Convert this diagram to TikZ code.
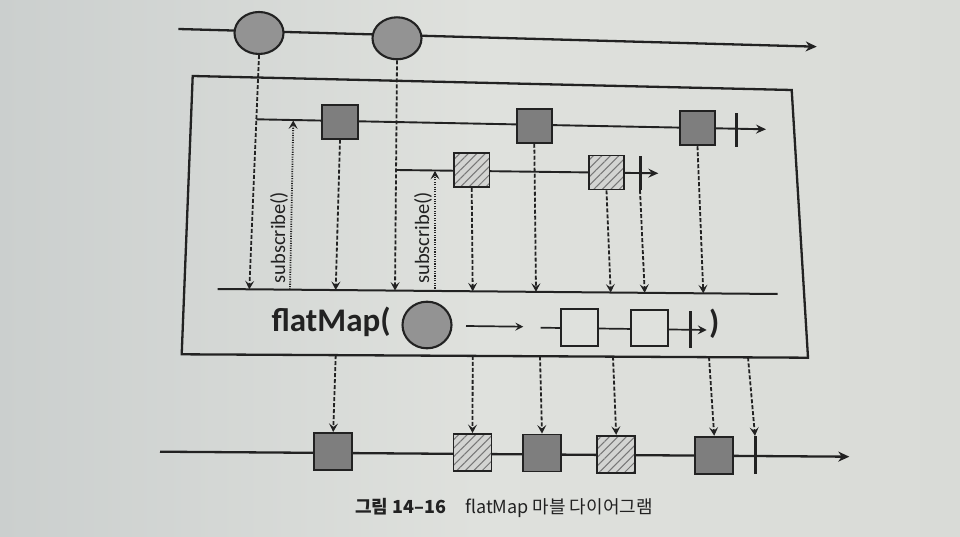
\documentclass[tikz,border=0pt]{standalone}
\usepackage{fontspec}
\setmainfont{Carlito}
\newfontfamily\kr{Noto Sans CJK KR}
\usetikzlibrary{arrows.meta,patterns.meta,shapes.geometric}
\definecolor{ink}{HTML}{222222}
\definecolor{marblegray}{HTML}{939393}
\definecolor{sqgray}{HTML}{7E7E7E}
\definecolor{hatchbg}{HTML}{D3D4D2}
\definecolor{hatchline}{HTML}{777777}
\definecolor{paperL}{HTML}{CBCFCE}
\definecolor{paperM}{HTML}{DFE1DD}
\definecolor{paperR}{HTML}{D9DBD7}
\begin{document}
\begin{tikzpicture}[x=1pt,y=-1pt,
  mainln/.style={draw=ink,line width=2.3pt,-{Stealth[length=11pt,width=10pt,inset=3.5pt]}},
  innerln/.style={draw=ink,line width=1.9pt,-{Stealth[length=10pt,width=9pt,inset=3.5pt]}},
  marble/.style={ellipse,draw=ink,line width=2.1pt,fill=marblegray,minimum width=49pt,minimum height=42pt,inner sep=0pt},
  sq/.style={rectangle,draw=ink,line width=1.9pt,fill=sqgray,minimum width=35.5pt,minimum height=34pt,inner sep=0pt},
  hsq/.style={rectangle,draw=ink,line width=1.9pt,minimum width=35.5pt,minimum height=34pt,inner sep=0pt,
    preaction={fill=hatchbg},pattern={Lines[angle=45,distance=6pt,line width=1pt]},pattern color=hatchline},
  bigsq/.style={minimum width=38pt,minimum height=37pt},
  emptysq/.style={rectangle,draw=ink,line width=1.7pt,minimum width=37pt,minimum height=36.5pt,inner sep=0pt},
  tbar/.style={rectangle,fill=ink,minimum width=3pt,minimum height=34pt,inner sep=0pt},
  dsh/.style={draw=ink,line width=1.8pt,dash pattern=on 4pt off 2pt,-{Stealth[length=8.5pt,width=9pt,inset=3.5pt]}},
  dtt/.style={draw=ink,line width=1.8pt,dash pattern=on 1.1pt off 1.3pt,-{Stealth[length=8.5pt,width=9pt,inset=3.5pt]}},
  subtxt/.style={rotate=90,anchor=base,inner sep=0pt,text=ink,font=\fontsize{20.5}{22}\selectfont},
  fmfont/.style={inner sep=0pt,text=ink,font=\bfseries\fontsize{33}{36}\selectfont},
  captxt/.style={anchor=base west,inner sep=0pt,text=ink,font=\kr\fontsize{18}{20}\selectfont}
]
\useasboundingbox (0,0) rectangle (960,537);
\shade[left color=paperL,right color=paperR,middle color=paperM] (0,0) rectangle (960,537);

% top source stream
\coordinate (topL) at (178.3,29);
\coordinate (topR) at (816.7,46.7);
\draw[mainln] (topL) -- (topR);
\node[marble] (c1) at (259,33) {};
\node[marble] (c2) at (397,38.3) {};

% flatMap box
\draw[draw=ink,line width=2.3pt] (192.7,76) -- (791.7,90) -- (808,357.7) -- (181.7,354.3) -- cycle;

% inner stream 1
\coordinate (st1) at (256.4,119.3);
\coordinate (st1e) at (766,129.3);
\draw[innerln] (st1) -- (st1e);
\node[sq] (s1a) at (340,121.7) {};
\node[sq] (s1b) at (534.3,125.8) {};
\node[sq] (s1c) at (697.5,128.3) {};
\node[tbar] (t1) at (736.7,129.7) {};

% inner stream 2
\coordinate (st2) at (396,170);
\coordinate (st2e) at (658.3,173.3);
\draw[innerln] (st2) -- (st2e);
\node[hsq] (h2a) at (471.7,170.3) {};
\node[hsq] (h2b) at (606.5,172.5) {};
\node[tbar] (t2) at (640,173) {};

% merge line
\coordinate (mL) at (217.7,289);
\coordinate (mR) at (777.7,294);
\draw[draw=ink,line width=2pt] (mL) -- (mR);
\coordinate (m1) at (249.3,289.3);
\coordinate (m2) at (335.7,290.0);
\coordinate (m3) at (395,290.6);
\coordinate (m4) at (472.7,291.3);
\coordinate (m5) at (536,291.8);
\coordinate (m6) at (610.7,292.5);
\coordinate (m7) at (644.7,292.8);
\coordinate (m8) at (703.3,293.3);
\coordinate (sA) at (290,289.6);
\coordinate (sAe) at (293.3,120.4);
\coordinate (sB) at (435,290.9);
\coordinate (sBe) at (435,170.8);

\draw[dsh] (c1.south) -- (m1);
\draw[dsh] (s1a.south) -- (m2);
\draw[dsh] (c2.south) -- (m3);
\draw[dsh] (h2a.south) -- (m4);
\draw[dsh] (s1b.south) -- (m5);
\draw[dsh] (h2b.south) -- (m6);
\draw[dsh] (t2.south) -- (m7);
\draw[dsh] (s1c.south) -- (m8);
\draw[dtt] (sA) -- (sAe);
\draw[dtt] (sB) -- (sBe);
\node[subtxt] (sub1) at (285,237.5) {subscribe()};
\node[subtxt] (sub2) at (429,238) {subscribe()};

% flatMap( ... ) row
\node[fmfont,anchor=base west] (fmt) at (271.5,331.7) {flatMap(};
\node[marble,minimum width=49pt,minimum height=46.6pt] (fc) at (427,325) {};
\coordinate (fa1) at (466,326);
\coordinate (fa2) at (523.3,326.7);
\draw[draw=ink,line width=1.7pt,-{Stealth[length=8pt,width=8pt,inset=3pt]}] (fa1) -- (fa2);
\coordinate (fl1) at (540.7,327.7);
\coordinate (fl2) at (706.7,330);
\draw[draw=ink,line width=1.7pt,-{Stealth[length=9pt,width=9pt,inset=3.5pt]}] (fl1) -- (fl2);
\node[emptysq,fill=paperM] (fA) at (579.7,327.4) {};
\node[emptysq,fill=paperM] (fB) at (649.7,328) {};
\node[tbar,minimum height=36.7pt] (ft) at (690,329.3) {};
\node[fmfont,anchor=base west] (rp) at (709,333.5) {)};

% output stream
\coordinate (bL) at (160,451.7);
\coordinate (bR) at (849.3,456.7);
\draw[mainln] (bL) -- (bR);
\node[sq,bigsq] (o1) at (333.2,451.4) {};
\node[hsq,bigsq] (o2) at (472.5,452.5) {};
\node[sq,bigsq] (o3) at (542,453) {};
\node[hsq,bigsq] (o4) at (616.2,454.3) {};
\node[sq,bigsq] (o5) at (714.2,455.2) {};
\node[tbar,minimum height=38pt] (ot) at (755,455) {};

\coordinate (k1) at (335.7,355.1);
\coordinate (k2) at (472.7,355.9);
\coordinate (k3) at (540,356.3);
\coordinate (k4) at (613,356.6);
\coordinate (k5) at (709,357.2);
\coordinate (k6) at (748,357.4);
\draw[dsh] (k1) -- (o1.north);
\draw[dsh] (k2) -- (o2.north);
\draw[dsh] (k3) -- (o3.north);
\draw[dsh] (k4) -- (o4.north);
\draw[dsh] (k5) -- (o5.north);
\draw[dsh] (k6) -- (ot.north);

% caption
\node[captxt] (cap1) at (355,513) {\bfseries 그림 14–16};
\node[captxt] (cap2) at (465,513) {flatMap 마블 다이어그램};
\end{tikzpicture}
\end{document}
